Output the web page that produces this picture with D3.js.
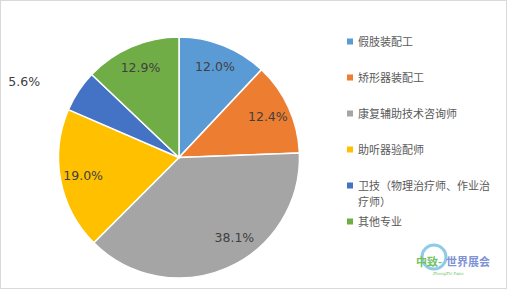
<!DOCTYPE html>
<html>
<head>
<meta charset="utf-8">
<script src="https://cdn.jsdelivr.net/npm/d3@7"></script>
<style>
  body { margin: 0; background: #fff; }
  svg { display: block; }
</style>
</head>
<body>
<script>
var categories = ["假肢装配工", "矫形器装配工", "康复辅助技术咨询师", "助听器验配师", "卫技（物理治疗师、作业治疗师）", "其他专业"];
var legendLines = [["假肢装配工"], ["矫形器装配工"], ["康复辅助技术咨询师"], ["助听器验配师"], ["卫技（物理治疗师、作业治", "疗师）"], ["其他专业"]];
var shares = [12.0, 12.4, 38.1, 19.0, 5.6, 12.9];
var colors = ["#5b9bd5", "#ed7d31", "#a5a5a5", "#ffc000", "#4472c4", "#70ad47"];

var width = 508,
    height = 290;

var svg = d3.select("body").append("svg")
    .attr("width", width)
    .attr("height", height);

// chart border
svg.append("rect")
    .attr("x", 0.5).attr("y", 0.5)
    .attr("width", 506).attr("height", 288)
    .attr("fill", "#fff")
    .attr("stroke", "#d9d9d9");

var cx = 179, cy = 157.5, r = 120.5;

var pie = d3.pie().sort(null).value(function(d){ return d; });
var arcs = pie(shares);

var arc = d3.arc().innerRadius(0).outerRadius(r);

var g = svg.append("g")
    .attr("transform", "translate(" + cx + "," + cy + ")");

g.selectAll("path")
    .data(arcs)
  .enter().append("path")
    .attr("d", arc)
    .attr("fill", function(d, i){ return colors[i]; })
    .attr("stroke", "#fff")
    .attr("stroke-width", 1.5);

// labels: inside for normal slices, pushed out for the tiny one (best-fit style)
g.selectAll("text.lbl")
    .data(arcs)
  .enter().append("text")
    .attr("class", "lbl")
    .attr("transform", function(d){
      var span = d.endAngle - d.startAngle;
      var small = span < 0.4;
      var lr = small ? r * 1.43 : r * 0.81;
      var a;
      if (small) a = (d.startAngle + d.endAngle) / 2 - 0.13;
      else if (span > 2) a = d.startAngle + span * 0.42;
      else a = (d.startAngle + d.endAngle) / 2;
      return "translate(" + (Math.sin(a) * lr) + "," + (-Math.cos(a) * lr) + ")";
    })
    .attr("text-anchor", "middle")
    .attr("dy", "0.35em")
    .attr("font-family", "DejaVu Sans, sans-serif")
    .attr("font-size", 12.5)
    .attr("fill", "#404040")
    .text(function(d){ return d.data.toFixed(1) + "%"; });

// legend
var rowY = [42, 78, 114, 150, 186, 222];
var lg = svg.append("g");
var item = lg.selectAll("g.item")
    .data(categories)
  .enter().append("g")
    .attr("class", "item")
    .attr("transform", function(d, i){ return "translate(347," + rowY[i] + ")"; });

item.append("rect")
    .attr("x", 0).attr("y", -3.5)
    .attr("width", 6).attr("height", 6)
    .attr("fill", function(d, i){ return colors[i]; });

item.each(function(d, i){
  var sel = d3.select(this);
  legendLines[i].forEach(function(line, k){
    sel.append("text")
      .attr("x", 11)
      .attr("y", 4 + k * 16)
      .attr("font-family", "Noto Sans CJK SC, sans-serif")
      .attr("font-size", 11)
      .attr("fill", "#595959")
      .text(line);
  });
});

// watermark
var wm = svg.append("g").attr("opacity", 0.85);
wm.append("circle").attr("cx", 434).attr("cy", 257).attr("r", 12)
    .attr("fill", "none").attr("stroke", "#7cc3e6").attr("stroke-width", 3);
wm.append("text").attr("x", 416).attr("y", 266)
    .attr("font-family", "Noto Sans CJK SC, sans-serif")
    .attr("font-size", 11).attr("font-weight", "bold")
    .attr("fill", "#5bb84a").text("中致-");
wm.append("text").attr("x", 446).attr("y", 266)
    .attr("font-family", "Noto Sans CJK SC, sans-serif")
    .attr("font-size", 11).attr("font-weight", "bold")
    .attr("fill", "#6a7fd0").text("世界展会");
wm.append("text").attr("x", 433).attr("y", 275)
    .attr("font-family", "DejaVu Sans, sans-serif")
    .attr("font-size", 4).attr("font-style", "italic")
    .attr("fill", "#5bb84a").text("ZhongZhi Expo");
</script>
</body>
</html>
